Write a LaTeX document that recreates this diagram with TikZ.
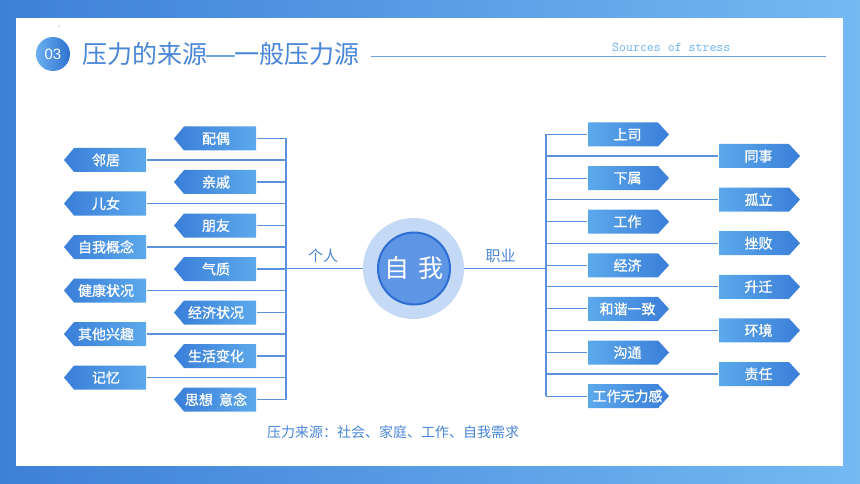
\documentclass[tikz,border=0pt]{standalone}
\usepackage{fontspec}
\usepackage{graphicx}
\newfontfamily\cjk{Noto Sans CJK SC}
\newfontfamily\cjkb[FakeBold=0.9]{Noto Sans CJK SC}
\newfontfamily\latinf{Liberation Sans}
\definecolor{bgL}{HTML}{3D80D8}
\definecolor{bgR}{HTML}{74B9F2}
\definecolor{boxD}{HTML}{3A7ED9}
\definecolor{boxL}{HTML}{5CA9EC}
\definecolor{ttl}{HTML}{4A86D8}
\definecolor{lnc}{HTML}{5A91DD}
\definecolor{ringc}{HTML}{C3D9F5}
\definecolor{corec}{HTML}{5E96E5}
\definecolor{coreB}{HTML}{2E6ED2}
\definecolor{engc}{HTML}{6DB3F2}
\definecolor{numL}{HTML}{6AAFF0}
\definecolor{numD}{HTML}{2F72D0}
\newcommand\LeftBox[4]{%
  \shade[left color=boxD,right color=boxL] (#2,#3) -- (#2+10,#3-12) -- (#2+82,#3-12) -- (#2+82,#3+12) -- (#2+10,#3+12) -- cycle;
  \node[boxtext,minimum width=82pt] (#1) at (#2+42,#3) {#4};
}
\newcommand\RightBox[4]{%
  \shade[left color=boxL,right color=boxD] (#2,#3-12) -- (#2+70,#3-12) -- (#2+81,#3) -- (#2+70,#3+12) -- (#2,#3+12) -- cycle;
  \node[boxtext,minimum width=81pt] (#1) at (#2+39.5,#3) {#4};
}
\begin{document}
\begin{tikzpicture}[x=1pt,y=-1pt,
  boxtext/.style={minimum height=24pt,inner sep=0pt,text=white,font=\cjkb\fontsize{14}{14}\selectfont},
  conn/.style={draw=lnc,line width=1.1pt},
  lbl/.style={text=ttl,inner sep=0pt,font=\cjk\fontsize{15}{15}\selectfont}]
\useasboundingbox (0,0) rectangle (860,484);
% background
\shade[left color=bgL,right color=bgR] (0,0) rectangle (860,484);
\fill[white] (16,18) rectangle (843,466);
\fill[gray] (59,26) circle (0.6pt);
% header
\node[circle,minimum size=34pt,inner sep=0pt,left color=numL,right color=numD,text=white,font=\latinf\fontsize{15}{15}\selectfont] (num) at (53,54) {03};
\node[anchor=west,inner sep=0pt,text=ttl,font=\cjk\fontsize{25}{25}\selectfont] (title) at (82,54.5) {压力的来源\makebox[1.1em]{\scalebox{1.45}[1]{—}}一般压力源};
\coordinate (tl1) at (371,56);
\coordinate (tl2) at (826,56);
\draw[draw=ttl!80,line width=0.9pt] (tl1) -- (tl2);
\node[anchor=west,inner sep=0pt,text=engc,font=\ttfamily\fontsize{13.5}{14}\selectfont] (eng) at (612,47.5) {Sources of stress};
% center
\node[circle,fill=ringc,minimum size=101pt,inner sep=0pt] (ring) at (413.5,268.5) {};
\node[circle,fill=corec,draw=coreB,line width=2pt,minimum size=72pt,inner sep=0pt,text=white,font=\cjk\fontsize{25}{25}\selectfont] (self) at (414,268.5) {自\,\,我};
\node[lbl] (pers) at (323,256) {个人};
\node[lbl] (job) at (500.5,256) {职业};
% left boxes
\LeftBox{a1}{174}{138.5}{配偶}
\LeftBox{a2}{174}{182}{亲戚}
\LeftBox{a3}{174}{225.5}{朋友}
\LeftBox{a4}{174}{269}{气质}
\LeftBox{a5}{174}{312.5}{经济状况}
\LeftBox{a6}{174}{356}{生活变化}
\LeftBox{a7}{174}{399.5}{思想\ \ 意念}
\LeftBox{b1}{64}{160}{邻居}
\LeftBox{b2}{64}{203.5}{儿女}
\LeftBox{b3}{64}{247}{自我概念}
\LeftBox{b4}{64}{290.5}{健康状况}
\LeftBox{b5}{64}{334}{其他兴趣}
\LeftBox{b6}{64}{377.5}{记忆}
% right boxes
\RightBox{c1}{588}{134.5}{上司}
\RightBox{c2}{588}{178.1}{下属}
\RightBox{c3}{588}{221.7}{工作}
\RightBox{c4}{588}{265.3}{经济}
\RightBox{c5}{588}{308.9}{和谐一致}
\RightBox{c6}{588}{352.5}{沟通}
\RightBox{c7}{588}{396.1}{工作无力感}
\RightBox{d1}{719}{156}{同事}
\RightBox{d2}{719}{199.6}{孤立}
\RightBox{d3}{719}{243.2}{挫败}
\RightBox{d4}{719}{286.8}{升迁}
\RightBox{d5}{719}{330.4}{环境}
\RightBox{d6}{719}{374}{责任}
% connectors
\coordinate (LT) at (286,138.5);
\coordinate (LB) at (286,399.5);
\coordinate (RT) at (546,134.5);
\coordinate (RB) at (546,396.1);
\draw[conn] (LT) -- (LB);
\draw[conn] (RT) -- (RB);
\foreach \n in {a1,a2,a3,a4,a5,a6,a7,b1,b2,b3,b4,b5,b6}
  \draw[conn] (\n.east) -- (\n.east -| LT);
\foreach \n in {c1,c2,c3,c4,c5,c6,c7,d1,d2,d3,d4,d5,d6}
  \draw[conn] (\n.west) -- (\n.west -| RT);
\draw[conn] (ring.west) -- (ring.west -| LT);
\draw[conn] (ring.east) -- (ring.east -| RT);
% footer
\node[anchor=west,inner sep=0pt,text=ttl,font=\cjk\fontsize{14}{14}\selectfont] (src) at (267,432) {压力来源：社会、家庭、工作、自我需求};
\end{tikzpicture}
\end{document}
